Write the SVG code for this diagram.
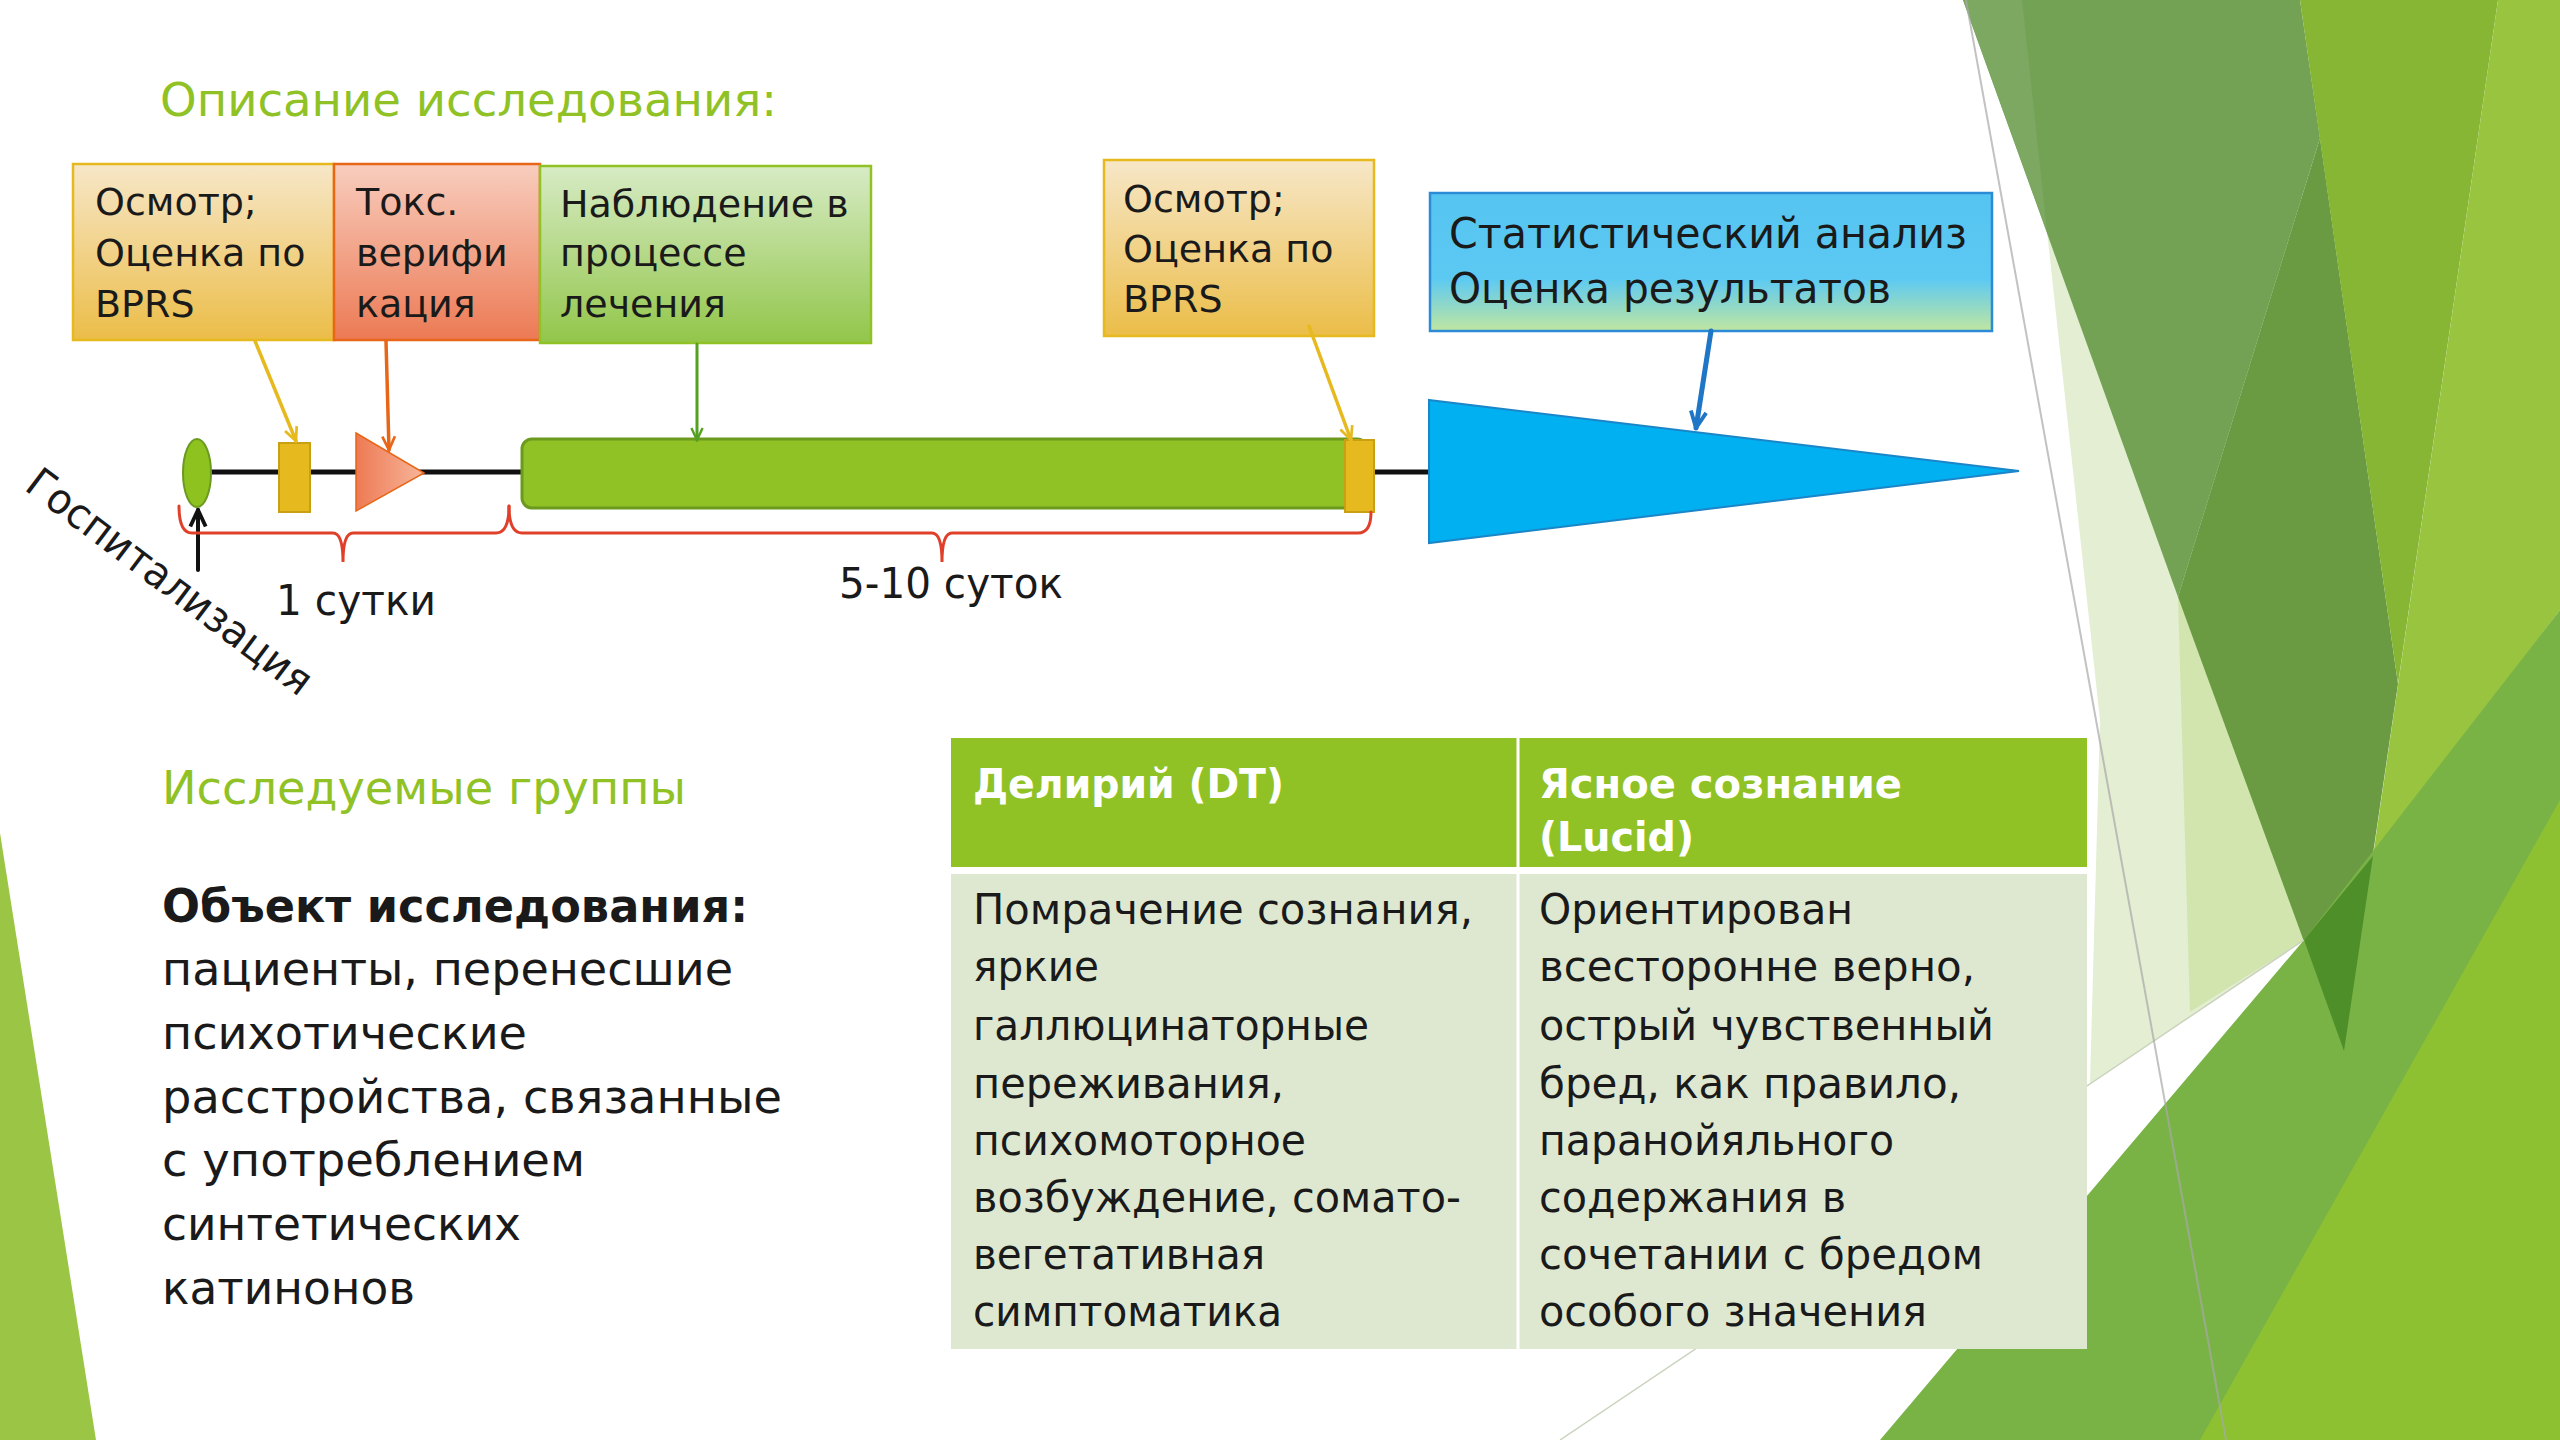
<svg xmlns="http://www.w3.org/2000/svg" width="2560" height="1440" viewBox="0 0 2560 1440">
  <defs>
    <style>
      .t { font-family: "DejaVu Sans", "Noto Sans", sans-serif; }
      .h { fill: #90C226; font-size: 47px; }
      .box { font-size: 38px; fill: #1a1a1a; }
      .lbl { font-size: 42px; fill: #1a1a1a; }
      .body { font-size: 46px; fill: #1a1a1a; }
      .cell { font-size: 42px; fill: #1a1a1a; }
      .hdr { font-size: 40px; fill: #ffffff; font-weight: bold; }
      .conn { fill: none; stroke-linecap: round; }
    </style>
    <linearGradient id="gA" x1="0" y1="0" x2="0" y2="1">
      <stop offset="0" stop-color="#F7E7C8"/>
      <stop offset="1" stop-color="#EBBD48"/>
    </linearGradient>
    <linearGradient id="gB" x1="0" y1="0" x2="0" y2="1">
      <stop offset="0" stop-color="#F8CDBE"/>
      <stop offset="1" stop-color="#EC7A54"/>
    </linearGradient>
    <linearGradient id="gC" x1="0" y1="0" x2="0" y2="1">
      <stop offset="0" stop-color="#D7EBC5"/>
      <stop offset="1" stop-color="#92C64A"/>
    </linearGradient>
    <linearGradient id="gE" x1="0" y1="0" x2="0" y2="1">
      <stop offset="0" stop-color="#55C4F0"/>
      <stop offset="0.62" stop-color="#5CC9F3"/>
      <stop offset="1" stop-color="#C0E6A0"/>
    </linearGradient>
    <linearGradient id="gT" x1="0" y1="0" x2="1" y2="0">
      <stop offset="0" stop-color="#EE7A55"/>
      <stop offset="1" stop-color="#F6B69A"/>
    </linearGradient>
    <marker id="mY" viewBox="0 0 20 20" refX="18" refY="10" markerWidth="18" markerHeight="18" markerUnits="userSpaceOnUse" orient="auto">
      <path d="M3,3 L18,10 L3,17" fill="none" stroke="#E6B91E" stroke-width="3"/>
    </marker>
    <marker id="mO" viewBox="0 0 20 20" refX="18" refY="10" markerWidth="18" markerHeight="18" markerUnits="userSpaceOnUse" orient="auto">
      <path d="M3,3 L18,10 L3,17" fill="none" stroke="#E76618" stroke-width="3"/>
    </marker>
    <marker id="mG" viewBox="0 0 20 20" refX="18" refY="10" markerWidth="16" markerHeight="16" markerUnits="userSpaceOnUse" orient="auto">
      <path d="M3,3 L18,10 L3,17" fill="none" stroke="#54A021" stroke-width="3"/>
    </marker>
    <marker id="mBl" viewBox="0 0 20 20" refX="18" refY="10" markerWidth="22" markerHeight="22" markerUnits="userSpaceOnUse" orient="auto">
      <path d="M3,3 L18,10 L3,17" fill="none" stroke="#1F75C6" stroke-width="3.5"/>
    </marker>
    <marker id="mK" viewBox="0 0 20 20" refX="18" refY="10" markerWidth="22" markerHeight="22" markerUnits="userSpaceOnUse" orient="auto">
      <path d="M3,3 L18,10 L3,17" fill="none" stroke="#111111" stroke-width="3.5"/>
    </marker>
  </defs>

  <rect width="2560" height="1440" fill="#ffffff"/>

  <!-- background decoration -->
  <g id="background">
    <polygon points="0,833 96,1440 0,1440" fill="#9BC545"/>
    <polygon points="2022,0 2300,0 2304,940 2090,1083 2100,720" fill="#E3EED2"/>
    <polygon points="2178,597 2304,940 2190,1012" fill="#D2E5AE"/>
    <polygon points="1963,0 2300,0 2320,138 2178,597" fill="#74A255"/>
    <polygon points="1963,0 2022,0 2047,232" fill="#7CA862"/>
    <polygon points="2320,138 2398,684 2344,1051 2178,597" fill="#6A9B42"/>
    <polygon points="2300,0 2498,0 2398,684" fill="#86B633"/>
    <polygon points="2498,0 2560,0 2560,610 2373,856" fill="#98C440"/>
    <polygon points="1880,1440 2304,940 2560,610 2560,1440" fill="#79B346"/>
    <polygon points="2304,940 2373,856 2344,1051" fill="#4F8F2A"/>
    <polygon points="2200,1440 2560,800 2560,1440" fill="#8DC132"/>
    <line x1="1560" y1="1440" x2="2304" y2="940" stroke="#C9D3BC" stroke-width="1.5"/>
    <line x1="1966" y1="0" x2="2226" y2="1440" stroke="#A9A9A9" stroke-width="2" opacity="0.7"/>
  </g>

  <!-- titles -->
  <text id="title" class="t h" x="160" y="116" textLength="617" lengthAdjust="spacingAndGlyphs">Описание исследования:</text>
  <text id="groups-title" class="t h" x="162" y="804" textLength="524" lengthAdjust="spacingAndGlyphs">Исследуемые группы</text>

  <!-- timeline base -->
  <g id="timeline">
    <line x1="205" y1="472" x2="1432" y2="472" stroke="#111111" stroke-width="5"/>
  </g>

  <g id="node-hosp">
    <ellipse cx="197" cy="473" rx="14" ry="34" fill="#8DC21F" stroke="#6B9A20" stroke-width="2"/>
  </g>
  <g id="node-exam1-mark">
    <rect x="279" y="443" width="31" height="69" fill="#E6B91E" stroke="#C9A013" stroke-width="2"/>
  </g>
  <g id="node-tox-mark">
    <polygon points="356,433 424,473 356,511" fill="url(#gT)" stroke="#E76618" stroke-width="1.5"/>
  </g>
  <g id="node-treatment-bar">
    <rect x="522" y="439" width="845" height="69" rx="10" fill="#90C226" stroke="#6B9A1F" stroke-width="3"/>
  </g>
  <g id="node-exam2-mark">
    <rect x="1345" y="440" width="29" height="72" fill="#E6B91E" stroke="#C9A013" stroke-width="2"/>
  </g>
  <g id="node-stat-mark">
    <polygon points="1429,400 2019,471 1429,543" fill="#00B0F0" stroke="#1A86C8" stroke-width="2"/>
  </g>

  <!-- callout boxes -->
  <g id="box-exam1">
    <rect x="73" y="164" width="261" height="176" fill="url(#gA)" stroke="#E6B91E" stroke-width="2.5"/>
    <text class="t box" x="95" y="215">Осмотр;</text>
    <text class="t box" x="95" y="266">Оценка по</text>
    <text class="t box" x="95" y="317">BPRS</text>
  </g>
  <g id="box-tox">
    <rect x="334" y="164" width="206" height="176" fill="url(#gB)" stroke="#E76618" stroke-width="2.5"/>
    <text class="t box" x="356" y="215">Токс.</text>
    <text class="t box" x="356" y="266">верифи</text>
    <text class="t box" x="356" y="317">кация</text>
  </g>
  <g id="box-observe">
    <rect x="540" y="166" width="331" height="177" fill="url(#gC)" stroke="#90C226" stroke-width="2.5"/>
    <text class="t box" x="560" y="217">Наблюдение в</text>
    <text class="t box" x="560" y="266">процессе</text>
    <text class="t box" x="560" y="317">лечения</text>
  </g>
  <g id="box-exam2">
    <rect x="1104" y="160" width="270" height="176" fill="url(#gA)" stroke="#E6B91E" stroke-width="2.5"/>
    <text class="t box" x="1123" y="212">Осмотр;</text>
    <text class="t box" x="1123" y="262">Оценка по</text>
    <text class="t box" x="1123" y="312">BPRS</text>
  </g>
  <g id="box-stat">
    <rect x="1430" y="193" width="562" height="138" fill="url(#gE)" stroke="#2C8BD6" stroke-width="2.5"/>
    <text class="t lbl" x="1449" y="248" textLength="518" lengthAdjust="spacingAndGlyphs">Статистический анализ</text>
    <text class="t lbl" x="1449" y="303" textLength="442" lengthAdjust="spacingAndGlyphs">Оценка результатов</text>
  </g>

  <!-- connectors -->
  <g id="connectors">
    <line class="conn" x1="255" y1="341" x2="296" y2="441" stroke="#E6B91E" stroke-width="3.5" marker-end="url(#mY)"/>
    <line class="conn" x1="386" y1="341" x2="389" y2="450" stroke="#E76618" stroke-width="3.5" marker-end="url(#mO)"/>
    <line class="conn" x1="697" y1="344" x2="697" y2="440" stroke="#54A021" stroke-width="3" marker-end="url(#mG)"/>
    <line class="conn" x1="1309" y1="326" x2="1351" y2="440" stroke="#E6B91E" stroke-width="3.5" marker-end="url(#mY)"/>
    <line class="conn" x1="1711" y1="331" x2="1696" y2="428" stroke="#1F75C6" stroke-width="5" marker-end="url(#mBl)"/>
    <line class="conn" x1="198" y1="570" x2="198" y2="510" stroke="#111111" stroke-width="4" marker-end="url(#mK)"/>
    <path class="conn" d="M179,506 Q179,533 192,533 L333,533 Q343,533 343,562 Q343,533 353,533 L496,533 Q509,533 509,506" stroke="#E0402A" stroke-width="3"/>
    <path class="conn" d="M509,506 Q509,533 522,533 L932,533 Q942,533 942,562 Q942,533 952,533 L1358,533 Q1371,533 1371,512" stroke="#E0402A" stroke-width="3"/>
  </g>

  <!-- timeline labels -->
  <g id="labels">
    <text class="t lbl" x="276" y="615" textLength="160" lengthAdjust="spacingAndGlyphs">1 сутки</text>
    <text class="t lbl" x="839" y="598" textLength="224" lengthAdjust="spacingAndGlyphs">5-10 суток</text>
    <text class="t lbl" transform="translate(23,489) rotate(37)" x="0" y="0" font-size="41" textLength="346" lengthAdjust="spacingAndGlyphs">Госпитализация</text>
  </g>

  <!-- study object text -->
  <g id="object-text">
    <text class="t body" x="162" y="922" font-weight="bold" font-size="45" textLength="586" lengthAdjust="spacingAndGlyphs">Объект исследования:</text>
    <text class="t body" x="162" y="985" textLength="571" lengthAdjust="spacingAndGlyphs">пациенты, перенесшие</text>
    <text class="t body" x="162" y="1049" textLength="365" lengthAdjust="spacingAndGlyphs">психотические</text>
    <text class="t body" x="162" y="1113" textLength="620" lengthAdjust="spacingAndGlyphs">расстройства, связанные</text>
    <text class="t body" x="162" y="1176" textLength="423" lengthAdjust="spacingAndGlyphs">с употреблением</text>
    <text class="t body" x="162" y="1240" textLength="359" lengthAdjust="spacingAndGlyphs">синтетических</text>
    <text class="t body" x="162" y="1304" textLength="253" lengthAdjust="spacingAndGlyphs">катинонов</text>
  </g>

  <!-- table -->
  <g id="table">
    <rect x="951" y="738" width="1136" height="129" fill="#90C226"/>
    <rect x="951" y="874" width="1136" height="475" fill="#DEE8D1"/>
    <line x1="1518" y1="738" x2="1518" y2="1349" stroke="#ffffff" stroke-width="3"/>
    <text class="t hdr" x="973" y="798" textLength="311" lengthAdjust="spacingAndGlyphs">Делирий (DT)</text>
    <text class="t hdr" x="1539" y="798" textLength="363" lengthAdjust="spacingAndGlyphs">Ясное сознание</text>
    <text class="t hdr" x="1539" y="851" textLength="155" lengthAdjust="spacingAndGlyphs">(Lucid)</text>

    <text class="t cell" x="973" y="924" textLength="500" lengthAdjust="spacingAndGlyphs">Помрачение сознания,</text>
    <text class="t cell" x="973" y="981" textLength="126" lengthAdjust="spacingAndGlyphs">яркие</text>
    <text class="t cell" x="973" y="1040" textLength="396" lengthAdjust="spacingAndGlyphs">галлюцинаторные</text>
    <text class="t cell" x="973" y="1098" textLength="311" lengthAdjust="spacingAndGlyphs">переживания,</text>
    <text class="t cell" x="973" y="1155" textLength="333" lengthAdjust="spacingAndGlyphs">психомоторное</text>
    <text class="t cell" x="973" y="1212" textLength="488" lengthAdjust="spacingAndGlyphs">возбуждение, сомато-</text>
    <text class="t cell" x="973" y="1269" textLength="292" lengthAdjust="spacingAndGlyphs">вегетативная</text>
    <text class="t cell" x="973" y="1326" textLength="309" lengthAdjust="spacingAndGlyphs">симптоматика</text>

    <text class="t cell" x="1539" y="924" textLength="314" lengthAdjust="spacingAndGlyphs">Ориентирован</text>
    <text class="t cell" x="1539" y="981" textLength="436" lengthAdjust="spacingAndGlyphs">всесторонне верно,</text>
    <text class="t cell" x="1539" y="1040" textLength="455" lengthAdjust="spacingAndGlyphs">острый чувственный</text>
    <text class="t cell" x="1539" y="1098" textLength="422" lengthAdjust="spacingAndGlyphs">бред, как правило,</text>
    <text class="t cell" x="1539" y="1155" textLength="355" lengthAdjust="spacingAndGlyphs">паранойяльного</text>
    <text class="t cell" x="1539" y="1212" textLength="307" lengthAdjust="spacingAndGlyphs">содержания в</text>
    <text class="t cell" x="1539" y="1269" textLength="444" lengthAdjust="spacingAndGlyphs">сочетании с бредом</text>
    <text class="t cell" x="1539" y="1326" textLength="388" lengthAdjust="spacingAndGlyphs">особого значения</text>
  </g>
</svg>
